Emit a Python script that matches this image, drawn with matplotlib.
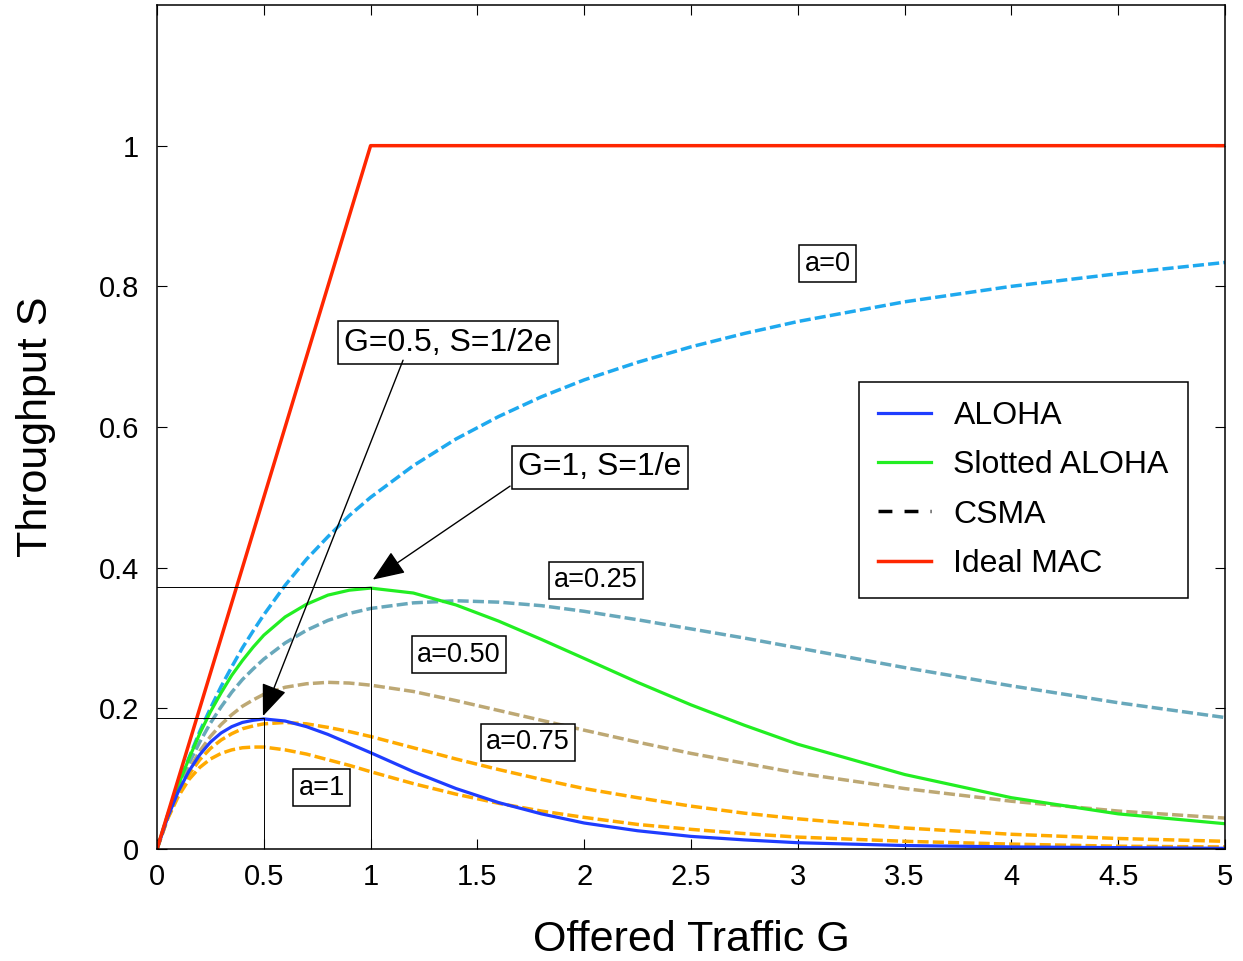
import matplotlib
matplotlib.use("Agg")
import matplotlib.pyplot as plt
from matplotlib.lines import Line2D

plt.rcParams['font.family'] = ['Liberation Sans', 'DejaVu Sans']

# offered traffic G (x) and throughput S
G = [0, 0.05, 0.1, 0.15, 0.2, 0.25, 0.3, 0.35, 0.4, 0.45, 0.5, 0.6, 0.7,
     0.8, 0.9, 1.0, 1.2, 1.4, 1.6, 1.8, 2.0, 2.25, 2.5, 2.75, 3.0, 3.5,
     4.0, 4.5, 5.0]

aloha = [0, 0.045, 0.082, 0.111, 0.134, 0.152, 0.165, 0.174, 0.180, 0.183,
         0.185, 0.182, 0.174, 0.163, 0.150, 0.137, 0.110, 0.086, 0.066,
         0.050, 0.037, 0.026, 0.018, 0.013, 0.009, 0.005, 0.003, 0.002,
         0.001]
slotted = [0, 0.048, 0.091, 0.129, 0.164, 0.195, 0.222, 0.247, 0.268,
           0.287, 0.304, 0.330, 0.348, 0.361, 0.368, 0.371, 0.364, 0.347,
           0.324, 0.298, 0.271, 0.237, 0.205, 0.176, 0.149, 0.106, 0.073,
           0.050, 0.036]
csma_0 = [0, 0.048, 0.091, 0.130, 0.167, 0.200, 0.231, 0.259, 0.286,
          0.310, 0.333, 0.375, 0.412, 0.444, 0.474, 0.500, 0.545, 0.583,
          0.615, 0.643, 0.667, 0.692, 0.714, 0.733, 0.750, 0.778, 0.800,
          0.818, 0.834]
csma_025 = [0, 0.047, 0.087, 0.122, 0.152, 0.179, 0.202, 0.223, 0.241,
            0.256, 0.270, 0.293, 0.311, 0.325, 0.335, 0.342, 0.350, 0.353,
            0.351, 0.346, 0.338, 0.326, 0.313, 0.300, 0.286, 0.258, 0.232,
            0.208, 0.187]
csma_050 = [0, 0.045, 0.083, 0.113, 0.139, 0.160, 0.177, 0.191, 0.203,
            0.212, 0.220, 0.230, 0.235, 0.237, 0.236, 0.233, 0.224, 0.211,
            0.197, 0.183, 0.169, 0.152, 0.136, 0.122, 0.108, 0.086, 0.068,
            0.054, 0.044]
csma_075 = [0, 0.044, 0.079, 0.106, 0.127, 0.143, 0.155, 0.164, 0.171,
            0.175, 0.178, 0.180, 0.178, 0.173, 0.167, 0.160, 0.144, 0.128,
            0.113, 0.099, 0.086, 0.073, 0.061, 0.051, 0.043, 0.030, 0.021,
            0.015, 0.011]
csma_1 = [0, 0.043, 0.075, 0.099, 0.116, 0.128, 0.136, 0.141, 0.144,
          0.145, 0.145, 0.141, 0.135, 0.127, 0.119, 0.110, 0.093, 0.078,
          0.065, 0.054, 0.045, 0.035, 0.028, 0.022, 0.017, 0.011, 0.007,
          0.004, 0.003]

ideal_G = [0, 0.25, 0.5, 0.75, 1.0, 5.0]
ideal_S = [0, 0.25, 0.5, 0.75, 1.0, 1.0]

fig = plt.figure(figsize=(12.43, 9.61), dpi=100)
ax = fig.add_axes([0.1263, 0.1165, 0.8592, 0.8783])

dash = (3.2, 1.2)
ax.plot(G, csma_0, color="#1ea9ef", lw=2.5, dashes=dash)
ax.plot(G, csma_025, color="#68a8bb", lw=2.5, dashes=dash)
ax.plot(G, csma_050, color="#bda874", lw=2.5, dashes=dash)
ax.plot(G, csma_075, color="#ffaa00", lw=2.5, dashes=dash)
ax.plot(G, csma_1, color="#ffaa00", lw=2.5, dashes=dash)
ax.plot(G, slotted, color="#22ee22", lw=2.3)
ax.plot(G, aloha, color="#1f3dff", lw=2.3)
ax.plot(ideal_G, ideal_S, color="#ff2600", lw=2.5)

# reference lines at the two peaks
ax.plot([0, 1, 1], [0.372, 0.372, 0], color="black", lw=0.7)
ax.plot([0, 0.5, 0.5], [0.187, 0.187, 0], color="black", lw=0.7)

ax.set_xlim(0, 5)
ax.set_ylim(0, 1.2)
ax.set_xticks([0, 0.5, 1, 1.5, 2, 2.5, 3, 3.5, 4, 4.5, 5])
ax.set_xticklabels(["0", "0.5", "1", "1.5", "2", "2.5", "3", "3.5", "4", "4.5", "5"])
ax.set_yticks([0, 0.2, 0.4, 0.6, 0.8, 1.0])
ax.set_yticklabels(["0", "0.2", "0.4", "0.6", "0.8", "1"])
ax.tick_params(direction="in", length=7, width=0.8, top=True, right=True,
               labelsize=21)
ax.tick_params(axis="x", pad=10)
ax.tick_params(axis="y", pad=13)
for s in ax.spines.values():
    s.set_linewidth(1.1)

ax.set_xlabel("Offered Traffic G", fontsize=31, labelpad=21)
ax.set_ylabel("Throughput S", fontsize=31, labelpad=31)

box = dict(boxstyle="square,pad=0.2", fc="white", ec="black", lw=1.1)
ax.text(1.362, 0.720, "G=0.5, S=1/2e", fontsize=23, ha="center", va="center", bbox=box)
ax.text(2.074, 0.543, "G=1, S=1/e", fontsize=23, ha="center", va="center", bbox=box)
ax.text(3.141, 0.832, "a=0", fontsize=19.5, ha="center", va="center", bbox=box)
ax.text(2.055, 0.382, "a=0.25", fontsize=19.5, ha="center", va="center", bbox=box)
ax.text(1.414, 0.276, "a=0.50", fontsize=19.5, ha="center", va="center", bbox=box)
ax.text(1.737, 0.152, "a=0.75", fontsize=19.5, ha="center", va="center", bbox=box)
ax.text(0.772, 0.087, "a=1", fontsize=19.5, ha="center", va="center", bbox=box)

arrow = dict(arrowstyle="-|>,head_length=1.0,head_width=0.4", color="black",
             lw=1.0, shrinkA=0, shrinkB=0, mutation_scale=20)
ax.annotate("", xy=(0.496, 0.189), xytext=(1.152, 0.695), arrowprops=arrow)
ax.annotate("", xy=(1.01, 0.383), xytext=(1.653, 0.516), arrowprops=arrow)

handles = [
    Line2D([], [], color="#1f3dff", lw=2.3),
    Line2D([], [], color="#22ee22", lw=2.3),
    Line2D([], [], color="black", lw=2.5, dashes=(4, 3.5)),
    Line2D([], [], color="#ff2600", lw=2.5),
]
labels = ["ALOHA", "Slotted ALOHA", "CSMA", "Ideal MAC"]
leg = ax.legend(handles, labels, loc="upper right", bbox_to_anchor=(0.9654, 0.5533),
                borderaxespad=0, fontsize=23, fancybox=False, edgecolor="black",
                framealpha=1, handlelength=1.65, labelspacing=0.6,
                borderpad=0.6, handletextpad=0.7)
leg.get_frame().set_linewidth(1.1)

fig.savefig("out.png", dpi=100)
